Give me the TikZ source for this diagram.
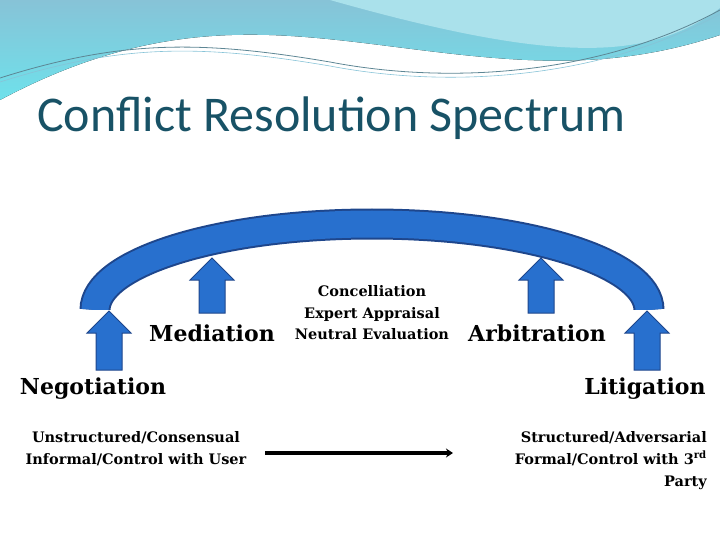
\documentclass[tikz,border=0pt]{standalone}
\usepackage{fontspec}
\setmainfont{DejaVu Serif}
\newfontfamily\titlefont{Carlito}
\usetikzlibrary{arrows.meta}
\definecolor{archblue}{RGB}{40,112,206}
\definecolor{archedge}{RGB}{30,70,140}
\definecolor{skyA}{RGB}{135,195,215}
\definecolor{skyB}{RGB}{110,225,235}
\definecolor{skyC}{RGB}{170,225,235}
\definecolor{titleteal}{RGB}{24,82,102}
\tikzset{
  blockarrow/.style={fill=archblue, draw=archedge, line width=1pt},
  bigterm/.style={font=\bfseries\fontsize{22}{26}\selectfont},
  smallterm/.style={font=\bfseries\fontsize{14.5}{22}\selectfont, align=center, inner sep=0pt},
}
% up arrow: x, base, top
\newcommand{\uparrowat}[3]{%
  \filldraw[blockarrow] (#1-13,#2) -- (#1-13,#3+22) -- (#1-22,#3+22) -- (#1,#3)
    -- (#1+22,#3+22) -- (#1+13,#3+22) -- (#1+13,#2) -- cycle;}
\begin{document}
\begin{tikzpicture}[x=1pt, y=-1pt]
\useasboundingbox (0,0) rectangle (720,540);
% header wave
\fill[top color=skyA, bottom color=skyB] (0,0) -- (720,0) -- (720,35)
  .. controls (600,75) and (500,60) .. (380,45)
  .. controls (260,30) and (150,20) .. (0,100) -- cycle;
\fill[skyC] (330,0) -- (720,0) -- (720,8)
  .. controls (650,60) and (560,65) .. (330,0) -- cycle;
\draw[titleteal!70, line width=0.8pt] (0,78) .. controls (120,40) and (200,40) .. (330,62)
  .. controls (450,85) and (600,75) .. (720,10);
\draw[skyA, line width=0.6pt] (0,82) .. controls (120,44) and (200,44) .. (330,66)
  .. controls (450,89) and (600,79) .. (720,14);
% title
\node[anchor=base west, inner sep=0pt, text=titleteal, font=\titlefont\fontsize{50}{58}\selectfont]
  (title) at (37,132) {Conflict Resolution Spectrum};
% arch
\draw[archedge, line width=31pt] (95,310) arc[start angle=180, end angle=360, x radius=277, y radius=86];
\draw[archblue, line width=27pt] (95,310) arc[start angle=180, end angle=360, x radius=277, y radius=86];
\fill[white] (60,310) rectangle (690,330);
% block arrows
\uparrowat{109}{370}{311}
\uparrowat{212}{313}{258}
\uparrowat{541}{313}{258}
\uparrowat{647}{370}{311}
% labels
\node[bigterm, anchor=base] (neg) at (93,394) {Negotiation};
\node[bigterm, anchor=base] (lit) at (645,394) {Litigation};
\node[bigterm, anchor=base] (med) at (212,341) {Mediation};
\node[bigterm, anchor=base] (arb) at (537,341) {Arbitration};
\node[smallterm, anchor=base] (conc) at (372,296) {Concelliation};
\node[smallterm, anchor=base] (exp) at (372,318) {Expert Appraisal};
\node[smallterm, anchor=base] (neu) at (372,339) {Neutral Evaluation};
\node[smallterm, anchor=north] (left) at (136,431) {Unstructured/Consensual\\Informal/Control with User};
\node[smallterm, anchor=north east, align=right] (right) at (707,431)
  {Structured/Adversarial\\Formal/Control with 3\textsuperscript{rd}\\Party};
% spectrum arrow
\coordinate (sa) at (265,453);
\coordinate (sb) at (453,453);
\draw[line width=4pt, -{Stealth[length=7pt, width=9pt]}] (sa) -- (sb);
\end{tikzpicture}
\end{document}
